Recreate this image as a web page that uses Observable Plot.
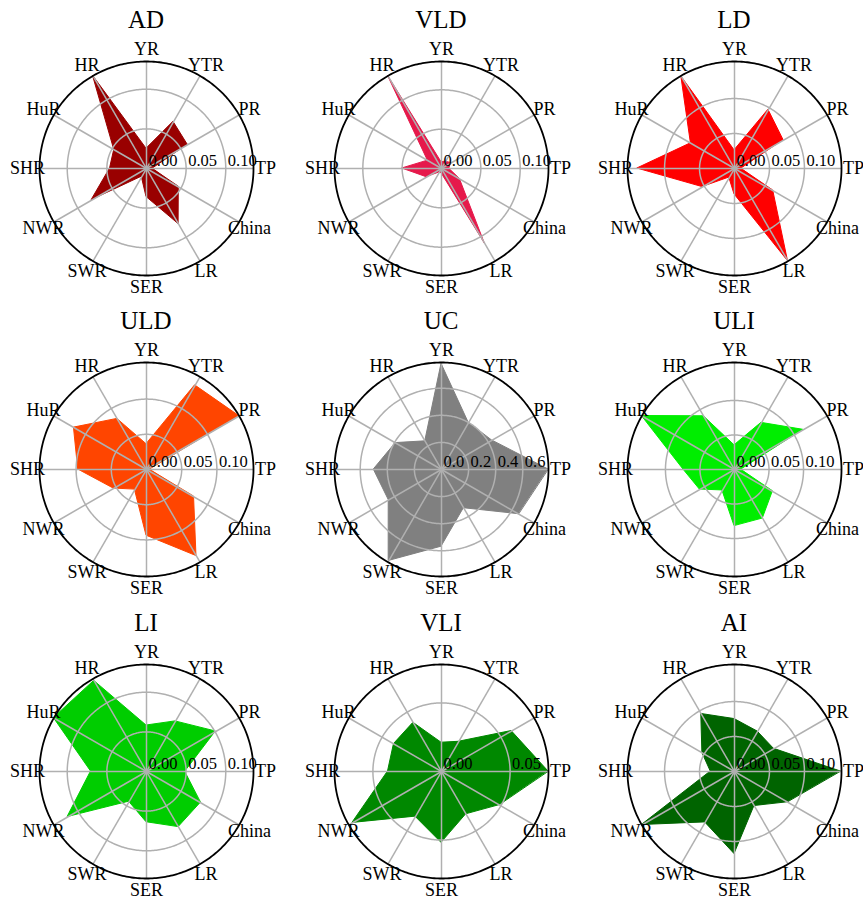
<!DOCTYPE html>
<html><head><meta charset="utf-8">
<script src="https://cdn.jsdelivr.net/npm/d3@7"></script>
<script src="https://cdn.jsdelivr.net/npm/@observablehq/plot@0.6"></script>
<style>
html,body{margin:0;padding:0;background:#fff;overflow:hidden;width:863px;height:899px}
.panel{position:absolute;width:290px}
.title{height:32px;line-height:29px;text-align:center;font-family:"Liberation Serif","Times New Roman",serif;font-size:25px;color:#000}
.panel svg{display:block;overflow:visible}
</style></head><body>
<div id="root"></div>
<script>
// Axis categories, counter-clockwise starting at the right (east)
const categories = ["TP","PR","YTR","YR","HR","HuR","SHR","NWR","SWR","SER","LR","China"];
const panelNames = ["AD","VLD","LD","ULD","UC","ULI","LI","VLI","AI"];

// values in category order
const AD  = [0.008,0.060,0.068,0.025,0.135,0.047,0.046,0.080,0.012,0.036,0.081,0.047];
const VLD = [0.010,0.014,0.010,0.008,0.136,0.020,0.050,0.022,0.006,0.006,0.110,0.027];
const LD  = [0.010,0.081,0.097,0.026,0.152,0.072,0.139,0.053,0.015,0.037,0.153,0.064];
const ULD = [0.005,0.152,0.138,0.036,0.083,0.119,0.097,0.054,0.033,0.094,0.142,0.078];
const UC  = [0.79,0.43,0.40,0.78,0.24,0.39,0.50,0.45,0.78,0.57,0.33,0.66];
const ULI = [0.010,0.115,0.078,0.035,0.089,0.155,0.074,0.058,0.035,0.082,0.082,0.064];
const LI  = [0.049,0.101,0.073,0.058,0.132,0.135,0.070,0.115,0.044,0.064,0.081,0.079];
const VLI = [0.078,0.059,0.025,0.021,0.041,0.040,0.039,0.075,0.038,0.052,0.036,0.049];
const AI  = [0.152,0.065,0.066,0.075,0.095,0.053,0.034,0.153,0.084,0.118,0.057,0.088];

// radial ticks and their labels
const ticksStd = [0, 0.05, 0.10];
const tickLabelsStd = ["0.00","0.05","0.10"];
const ticksUC = [0, 0.2, 0.4, 0.6];
const tickLabelsUC = ["0.0","0.2","0.4","0.6"];
const ticksVLI = [0, 0.05];
const tickLabelsVLI = ["0.00","0.05"];

const fillColors = ["#990000","#e6194b","#ff0000","#ff4500","#808080","#00ee00","#00cd00","#008800","#006400"];

const panelValues = [AD, VLD, LD, ULD, UC, ULI, LI, VLI, AI];
const panelTicks = [ticksStd, ticksStd, ticksStd, ticksStd, ticksUC, ticksStd, ticksStd, ticksVLI, ticksStd];
const panelTickLabels = [tickLabelsStd, tickLabelsStd, tickLabelsStd, tickLabelsStd, tickLabelsUC, tickLabelsStd, tickLabelsStd, tickLabelsVLI, tickLabelsStd];

const colCenters = [146, 441, 734];
const rowCenters = [168, 469, 771];
const W = 290, H = 262, frameR = 107, labelR = 119;

const lon = c => 90 + categories.indexOf(c) * 360 / categories.length;
const circle = r => d3.geoCircle().center([0, 90]).radius(r).precision(1)();

function radar(values, ticks, tickLabels, color) {
  const rmax = d3.max(values);
  const rows = categories.map((c, i) => ({cat: c, value: values[i]}));
  const tickRows = ticks.map((t, i) => ({t, label: tickLabels[i]}));
  const Rd = rmax * (H / 2) / frameR;
  return Plot.plot({
    width: W, height: H, margin: 0,
    projection: {type: "azimuthal-equidistant", rotate: [0, -90], domain: circle(Rd)},
    style: {fontFamily: "'Liberation Serif','Times New Roman',serif", fontSize: "18px", color: "black", background: "transparent", overflow: "visible"},
    marks: [
      Plot.area(rows, {x1: d => lon(d.cat), y1: d => 90 - d.value, x2: 0, y2: 90, curve: "linear-closed", fill: color, stroke: color, strokeWidth: 1}),
      Plot.geo(ticks.filter(t => t > 0), {geometry: circle, stroke: "#b0b0b0", strokeWidth: 1.5, fill: "none"}),
      Plot.link(categories, {x1: lon, y1: 90, x2: lon, y2: 90 - rmax, stroke: "#b0b0b0", strokeWidth: 1.5}),
      Plot.geo([rmax], {geometry: circle, stroke: "black", strokeWidth: 1.8, fill: "none"}),
      Plot.text(tickRows, {x: 90, y: d => 90 - d.t, text: "label", textAnchor: "start", dx: 2, dy: -8, fontSize: 16.5, fill: "black"}),
      Plot.text(categories, {x: lon, y: 90 - rmax * labelR / frameR, text: d => d, fontSize: 18, fill: "black"})
    ]
  });
}

const root = document.getElementById("root");
panelNames.forEach((name, k) => {
  const col = k % 3, row = Math.floor(k / 3);
  const div = document.createElement("div");
  div.className = "panel";
  div.style.left = (colCenters[col] - W / 2) + "px";
  div.style.top = (rowCenters[row] - H / 2 - 32) + "px";
  const t = document.createElement("div");
  t.className = "title";
  t.textContent = name;
  div.appendChild(t);
  div.appendChild(radar(panelValues[k], panelTicks[k], panelTickLabels[k], fillColors[k]));
  root.appendChild(div);
});
</script>
</body></html>
